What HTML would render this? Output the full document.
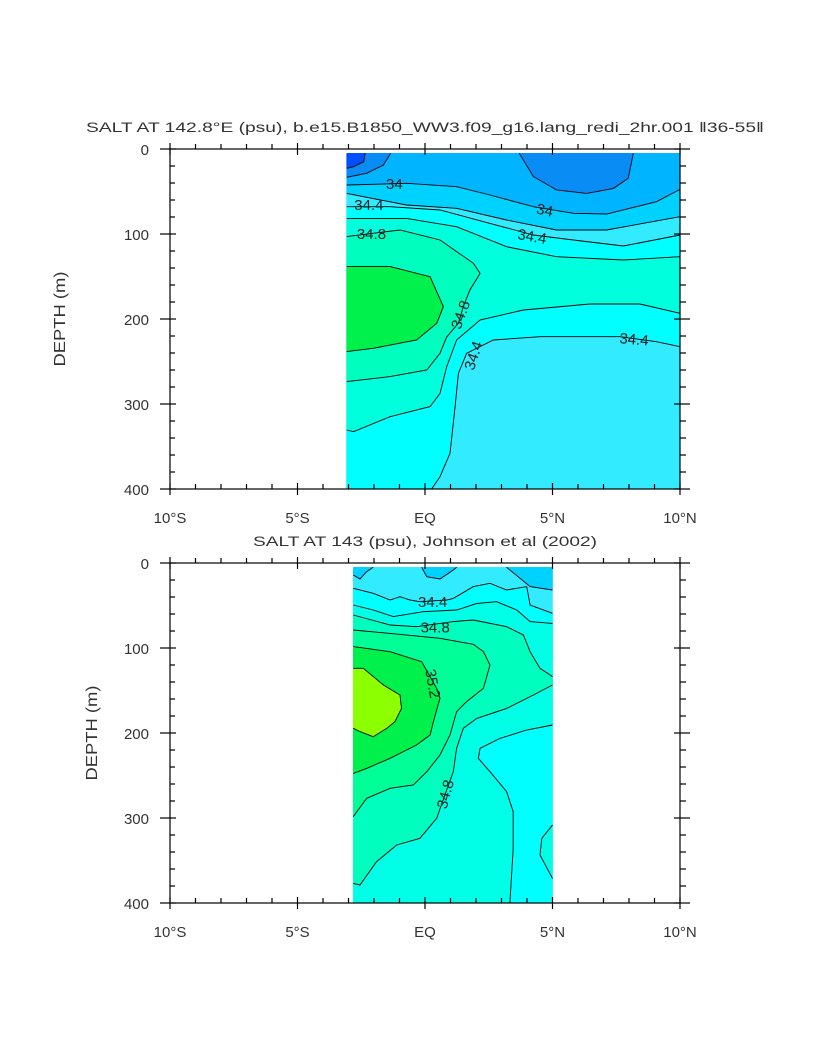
<!DOCTYPE html>
<html><head><meta charset="utf-8"><style>
html,body{margin:0;padding:0;background:#fff;}
svg{display:block;font-family:"Liberation Sans",sans-serif;}
</style></head><body>
<svg id="chart" width="818" height="1055" viewBox="0 0 818 1055" xmlns="http://www.w3.org/2000/svg"></svg>
<script>
// ---------- data ----------
const xTickLabels = ["10°S","5°S","EQ","5°N","10°N"];
const xTickValues = [-10,-5,0,5,10];
const yTickValues = [0,100,200,300,400];
const topTitle = "SALT AT 142.8°E (psu), b.e15.B1850_WW3.f09_g16.lang_redi_2hr.001 ‖36-55‖";
const bottomTitle = "SALT AT 143 (psu), Johnson et al (2002)";

const topDataExtent = [-3.07,10,5,400];
const topBackground = "#00b4ff";
const topCont1 = [[-3.07,33.3],[-2.29,28.6],[-1.63,18.8],[-1.35,5]];
const topClose1 = [[-3.07,5]];
const topCont2 = [[-3.07,22.7],[-2.8,20.8],[-2.4,14.9],[-2.35,5]];
const topClose2 = [[-3.07,5]];
const topCont3 = [[3.70,5],[4.25,32.5],[5.16,48.2],[6.34,52.2],[7.39,46.3],[7.97,34.5],[8.17,5]];
const topClose3 = [];
const topCont4 = [[-3.07,42.4],[-1.63,41.2],[-0.72,40.4],[1.24,44.3],[2.55,54.1],[4.25,67.9],[5.82,75.7],[7.12,76.5],[9.08,62],[10,47.5]];
const topClose4 = [[10,400],[-3.07,400]];
const topCont5 = [[-3.07,52.2],[-0.72,65.9],[1.24,69.8],[3.20,83.5],[5.16,95.3],[7.12,95.3],[10,79.6]];
const topClose5 = [[10,400],[-3.07,400]];
const topCont6 = [[-3.07,67.9],[-1.37,67.9],[0.59,71.8],[2.55,87.5],[4.25,101.2],[5.82,107.1],[7.78,114.1],[10,101.2]];
const topClose6 = [[10,400],[-3.07,400]];
const topCont7 = [[-3.07,81.6],[-0.72,81.6],[1.24,91.4],[3.20,114.9],[5.16,126.7],[7.78,130.6],[10,126.7]];
const topClose7 = [[10,400],[-3.07,400]];
const topCont8 = [[10,193.3],[8.43,182.4],[6.47,182.4],[3.86,189.4],[2.16,201.2],[1.24,224.7],[0.85,256.1],[0.59,287.5],[0.2,303.1],[-1.37,314.9],[-2.8,332.6],[-3.07,330.6]];
const topClose8 = [[-3.07,400],[10,400]];
const topCont9 = [[10,232.6],[9.08,226.7],[7.65,220.8],[4.51,220.8],[2.68,224.7],[1.63,240.4],[1.31,263.9],[1.18,303.1],[0.98,358],[0.59,385.5],[0.26,400]];
const topClose9 = [[10,400]];
const topCont10 = [[-3.07,103.1],[-0.98,95.3],[0.59,107.1],[1.9,134.5],[2.16,146.3],[1.76,165.9],[1.5,185.5],[1.31,205.1],[0.85,221],[0.59,240.4],[0.07,260],[-1.37,267.8],[-3.07,273.7]];
const topClose10 = [];
const topCont11 = [[-3.07,138.4],[-1.37,138.4],[0.2,150.2],[0.72,185.5],[0.46,205.1],[-0.33,224.7],[-2.03,234.5],[-3.07,238.4]];
const topClose11 = [];
const topColors = ["#0a8cf5","#0050ff","#0a8cf5","#00d2ff","#33ebff","#00ffff","#00ffdc","#00ffff","#33ebff","#00ffbe","#00f04c"];
const topLabels = ["34","34","34.4","34.4","34.8","34.8","34.4","34.4"];
const topLabelPos = [[-1.2,41],[4.7,72],[-2.2,66],[4.2,103],[-2.1,100],[1.4,195],[1.9,243],[8.2,224]];
const topLabelRot = [0,12,0,10,0,-70,-72,5];

const botDataExtent = [-2.81,5,5,400];
const botBackground = "#33ebff";
const botCont1 = [[-0.13,5],[0.07,16.1],[0.59,18.8],[1.11,8.2],[1.24,5]];
const botClose1 = [];
const botCont2 = [[3.2,5],[4.12,27.8],[5,31.8]];
const botClose2 = [[5,5]];
const botCont3 = [[-2.81,14.1],[-2.55,18.8],[-2.29,10.2],[-2.03,5]];
const botClose3 = [[-2.81,5]];
const botCont4 = [[-2.81,29.8],[-2.03,35.7],[-1.37,43.5],[-0.98,39.6],[-0.59,43.5],[-0.2,45.5],[0.85,43.5],[1.11,41.6],[1.9,27.8],[2.55,23.9],[3.2,31.8],[3.99,27.8],[4.12,49.4],[5,59.2]];
const botClose4 = [[5,400],[-2.81,400]];
const botCont5 = [[-2.81,49.4],[-2.03,55.3],[-1.24,63.1],[-0.07,57.3],[1.24,55.3],[2.03,47.5],[2.81,45.5],[3.6,55.3],[4.12,69],[5,71]];
const botCont5b = [[5,190.6],[3.99,196.5],[2.94,206.3],[2.16,218],[2.09,229.8],[2.55,245.5],[3.2,269],[3.46,292.6],[3.46,335.7],[3.33,400]];
const botClose5 = [[-2.81,400]];
const botCont6 = [[5,308.2],[4.58,323.9],[4.51,343.5],[5,371]];
const botClose6 = [];
const botCont7 = [[-2.81,61.2],[-1.37,73],[-0.33,74.9],[1.11,69],[1.9,67.1],[3.2,74.9],[3.86,84.7],[4.12,104.3],[4.51,123.9],[5,133.7]];
const botCont7b = [[5,143.5],[4.25,155.3],[3.2,171],[2.03,182.8],[1.5,194.5],[1.24,218],[1.11,245.5],[0.78,273],[0.46,300.4],[-0.2,323.9],[-1.11,331.8],[-1.9,351.4],[-2.55,378.8],[-2.81,376.9]];
const botCont8 = [[-2.81,298.4],[-2.29,276.9],[-1.37,265.1],[-0.46,261.2],[0.07,245.5],[0.59,225.9],[0.98,202.4],[1.24,174.9],[1.63,163.1],[2.29,147.5],[2.55,120],[2.29,104.3],[1.9,95.7],[0.59,88.6],[-1.37,82.8],[-2.81,78.8]];
const botCont9 = [[-2.81,98.4],[-1.37,104.3],[-0.13,116.1],[0.46,147.5],[0.59,159.2],[0.33,186.7],[0.2,202.4],[-0.33,214.1],[-1.37,229.8],[-2.29,241.6],[-2.81,247.5]];
const botCont10 = [[-2.81,123.9],[-2.42,123.9],[-1.63,143.5],[-0.98,155.3],[-0.92,171],[-1.18,186.7],[-1.5,194.5],[-2.03,204.3],[-2.55,198.4],[-2.81,194.5]];
const botColors = ["#00d2ff","#00d2ff","#00d2ff","#00ffff","#00ffe6","#00ffe6","#00ffbe","#00ff96","#00f04c","#8cff00"];
const botLabels = ["34.4","34.8","35.2","34.8"];
const botLabelPos = [[0.3,46],[0.4,76],[0.3,142],[0.8,272]];
const botLabelRot = [0,0,80,-75];

// ---------- drawing ----------
const NS = "http://www.w3.org/2000/svg";
const svg = document.getElementById("chart");
function mk(tag, attrs, parent){
  const e = document.createElementNS(NS, tag);
  for (const k in attrs) e.setAttribute(k, attrs[k]);
  (parent||svg).appendChild(e);
  return e;
}
function panel(name, y0){
  const L=170,R=680,T=y0,B=y0+340;
  const sx = v => L + (v+10)/20*(R-L);
  const sy = d => T + d/400*(B-T);
  const g = mk("g",{});
  
  
  return {L,R,T,B,sx,sy,g};
}
function ptsStr(P, pts){ return pts.map(p=>P.sx(p[0]).toFixed(1)+","+P.sy(p[1]).toFixed(1)).join(" "); }
function fill(P, pts, color, nm){
  const e = mk("polygon",{points:ptsStr(P,pts),fill:color,stroke:color,"stroke-width":0.5},P.g);
  
  
}
function line(P, pts, nm){
  const e = mk("polyline",{points:ptsStr(P,pts),fill:"none",stroke:"#000","stroke-width":0.9},P.g);
  
  
}
function label(P, txt, pos, rot, nm){
  const x=P.sx(pos[0]), y=P.sy(pos[1]);
  const e = mk("text",{x:x,y:y+5,"text-anchor":"middle","font-size":15,fill:"#222",transform:`rotate(${rot} ${x} ${y})`},P.g);
  e.textContent = txt;
  
  
}
function axes(P, title, titleLen, depthX){
  const a = mk("g",{stroke:"#000","stroke-width":1.2,fill:"none"});
  
  
  mk("rect",{x:P.L,y:P.T,width:P.R-P.L,height:P.B-P.T},a);
  for (let v=-10; v<=10; v++){
    const x=P.sx(v), maj = v%5===0;
    if (maj){ mk("line",{x1:x,y1:P.T-6,x2:x,y2:P.T+6},a); mk("line",{x1:x,y1:P.B-6,x2:x,y2:P.B+6},a); }
    else { mk("line",{x1:x,y1:P.T-5,x2:x,y2:P.T},a); mk("line",{x1:x,y1:P.B-5,x2:x,y2:P.B},a); }
  }
  for (let d=0; d<=400; d+=20){
    const y=P.sy(d), maj = d%100===0;
    mk("line",{x1:P.L-(maj?10:0),y1:y,x2:P.L+(maj?6:5),y2:y},a);
    mk("line",{x1:P.R-(maj?6:0),y1:y,x2:P.R+(maj?10:6),y2:y},a);
  }
  xTickValues.forEach((v,i)=>{
    const t = mk("text",{x:P.sx(v),y:P.B+34,"text-anchor":"middle","font-size":15,fill:"#333"});
    t.textContent = xTickLabels[i];
    
    
  });
  yTickValues.forEach(d=>{
    const t = mk("text",{x:149,y:P.sy(d)+6,"text-anchor":"end","font-size":15,fill:"#333"});
    t.textContent = String(d);
    
    
  });
  const cy=(P.T+P.B)/2;
  const yt = mk("text",{x:depthX,y:cy,"text-anchor":"middle","font-size":16,fill:"#333",transform:`rotate(-90 ${depthX} ${cy})`,"textLength":95,"lengthAdjust":"spacingAndGlyphs"});
  yt.textContent = "DEPTH (m)";
  
  
  const tt = mk("text",{x:(P.L+P.R)/2,y:P.T-17,"text-anchor":"middle","font-size":14,fill:"#333","textLength":titleLen,"lengthAdjust":"spacingAndGlyphs"});
  tt.textContent = title;
  
  
}

const PT = panel("model-panel", 149);
fill(PT, [[topDataExtent[0],topDataExtent[2]],[topDataExtent[1],topDataExtent[2]],[topDataExtent[1],topDataExtent[3]],[topDataExtent[0],topDataExtent[3]]], topBackground, "model-background-band");
const topSets = [[topCont1,topClose1],[topCont2,topClose2],[topCont3,topClose3],[topCont4,topClose4],[topCont5,topClose5],[topCont6,topClose6],[topCont7,topClose7],[topCont8,topClose8],[topCont9,topClose9],[topCont10,topClose10],[topCont11,topClose11]];
topSets.forEach((s,i)=>fill(PT, s[0].concat(s[1]), topColors[i], "model-salinity-band"));
topSets.forEach((s)=>line(PT, s[0], "model-contour-line"));
topLabels.forEach((t,i)=>label(PT, t, topLabelPos[i], topLabelRot[i], "model-contour-label"));
axes(PT, topTitle, 678, 65);

const PB = panel("observation-panel", 563);
fill(PB, [[botDataExtent[0],botDataExtent[2]],[botDataExtent[1],botDataExtent[2]],[botDataExtent[1],botDataExtent[3]],[botDataExtent[0],botDataExtent[3]]], botBackground, "obs-background-band");
const botFills = [
  botCont1.concat(botClose1), botCont2.concat(botClose2), botCont3.concat(botClose3),
  botCont4.concat(botClose4), botCont5.concat(botCont5b).concat(botClose5), botCont6.concat(botClose6),
  botCont7.concat(botCont7b), botCont8, botCont9, botCont10];
botFills.forEach((p,i)=>fill(PB, p, botColors[i], "obs-salinity-band"));
[botCont1,botCont2,botCont3,botCont4,botCont5,botCont5b,botCont6,botCont7,botCont7b,botCont8,botCont9,botCont10].forEach(c=>line(PB,c,"obs-contour-line"));
botLabels.forEach((t,i)=>label(PB, t, botLabelPos[i], botLabelRot[i], "obs-contour-label"));
axes(PB, bottomTitle, 344, 97);
</script>
</body></html>
